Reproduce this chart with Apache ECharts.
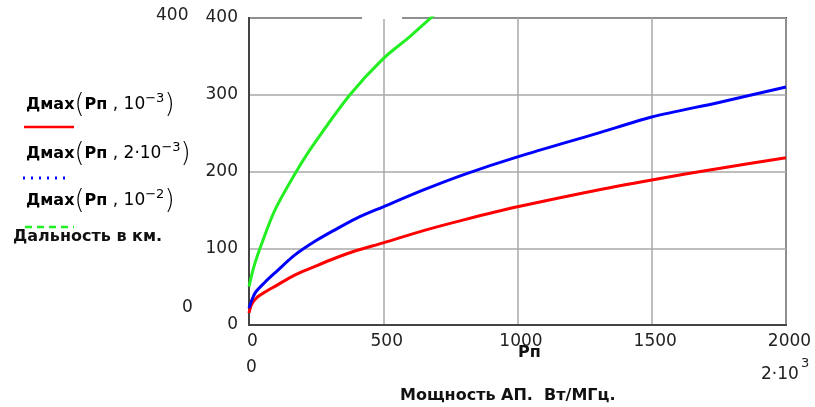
<!DOCTYPE html>
<html>
<head>
<meta charset="utf-8">
<script src="https://cdn.jsdelivr.net/npm/echarts@6/dist/echarts.min.js"></script>
<style>
html,body{margin:0;padding:0;background:#fff;}
#chart{width:815px;height:407px;}
</style>
</head>
<body>
<div id="chart"></div>
<script>
// ---- data ----
var redP    = [0, 10, 30, 60, 100, 170, 250, 320, 400, 500, 650, 800, 1000, 1300, 1500, 1750, 2000];
var redD    = [15.6, 27, 36, 43, 51, 65, 77, 87, 97, 107, 123, 137, 154, 176, 189, 204, 218];
var blueP   = [0, 10, 25, 60, 100, 170, 250, 320, 400, 500, 650, 800, 1000, 1300, 1500, 1750, 2000];
var blueD   = [22, 32, 43, 56, 69, 91, 110, 124, 139, 154, 176, 196, 219, 250, 271, 290, 310];
var greenP  = [0, 10, 20, 41, 97, 190, 250, 376, 500, 600, 680, 700];
var greenD  = [50, 65, 78, 100, 150, 208, 240, 300, 347, 376, 401, 407];
var xTicks  = [0, 500, 1000, 1500, 2000];
var yTicks  = [0, 100, 200, 300, 400];

function pairs(xs, ys){ return xs.map(function(x,i){ return [x, ys[i]]; }); }

var FONT = 'DejaVu Sans';
var chart = echarts.init(document.getElementById('chart'), null, {renderer:'canvas'});

var legendRich = {
  b: {fontFamily: FONT, fontWeight: 'bold', fontSize: 16, color: '#111'},
  n: {fontFamily: FONT, fontSize: 17, color: '#222'},
  s: {fontFamily: FONT, fontSize: 13, color: '#222', padding: [0,0,13,0]},
  p: {fontFamily: FONT, fontSize: 26, color: '#b0b0b0', fontWeight: 'lighter'}
};
function legendText(x, y, txt){
  return {type:'text', left: x, top: y, style:{text: txt, rich: legendRich, fontFamily: FONT}};
}

var option = {
  backgroundColor: '#fff',
  animation: false,
  grid: {left: 249, right: 29, top: 18, bottom: 82, show: true, borderColor: '#444', borderWidth: 2, backgroundColor: 'transparent'},
  xAxis: {
    type: 'value', min: 0, max: 2000, interval: 500,
    axisLine: {show: true, lineStyle: {color: '#444', width: 2}},
    axisTick: {show: false},
    splitLine: {show: true, lineStyle: {color: '#a8a8a8', width: 1.5}},
    axisLabel: {fontFamily: FONT, fontSize: 17, color: '#222', margin: 8, padding: [0,0,0,7],
      formatter: function(v){ return xTicks.indexOf(v) >= 0 ? String(v) : ''; }}
  },
  yAxis: {
    type: 'value', min: 0, max: 400, interval: 100,
    axisLine: {show: true, lineStyle: {color: '#444', width: 2}},
    axisTick: {show: false},
    splitLine: {show: true, lineStyle: {color: '#a8a8a8', width: 1.5}},
    axisLabel: {fontFamily: FONT, fontSize: 17, color: '#222', margin: 11,
      formatter: function(v){ return yTicks.indexOf(v) >= 0 ? String(v) : ''; }}
  },
  series: [
    {type:'line', data: pairs(redP, redD), smooth: 0.3, showSymbol:false, clip:true,
     lineStyle:{color:'#ff0000', width: 3}},
    {type:'line', data: pairs(blueP, blueD), smooth: 0.3, showSymbol:false, clip:true,
     lineStyle:{color:'#0000ff', width: 3}},
    {type:'line', data: pairs(greenP, greenD), smooth: 0.3, showSymbol:false, clip:true,
     lineStyle:{color:'#22ee22', width: 3}}
  ],
  graphic: [
    // small break in the top frame, as in the reference
    {type:'rect', shape:{x:362, y:16, width:40, height:3}, style:{fill:'#fff'}, z: 100},
    // legend labels
    legendText(26, 92, '{b|Дмах}{p|(}{b|Рп}{n| , 10}{s|−3}{p|)}'),
    {type:'line', shape:{x1:24, y1:127, x2:74, y2:127}, style:{stroke:'#ff0000', lineWidth:2.5}},
    legendText(26, 141, '{b|Дмах}{p|(}{b|Рп}{n| , 2·10}{s|−3}{p|)}'),
    {type:'line', shape:{x1:23, y1:178, x2:69, y2:178}, style:{stroke:'#0000ff', lineWidth:3, lineDash:[2,6]}},
    legendText(26, 188, '{b|Дмах}{p|(}{b|Рп}{n| , 10}{s|−2}{p|)}'),
    {type:'line', shape:{x1:25, y1:227, x2:74, y2:227}, style:{stroke:'#22ee22', lineWidth:2.5, lineDash:[7,5]}},
    {type:'text', left: 13, top: 229, style:{text:'Дальность в км.', fontFamily: FONT, fontWeight:'bold', fontSize: 16, fill:'#111'}},
    // extra Mathcad limit labels
    {type:'text', left: 156, top: 7, style:{text:'400', fontFamily: FONT, fontSize: 17, fill:'#222'}},
    {type:'text', left: 182, top: 299, style:{text:'0', fontFamily: FONT, fontSize: 17, fill:'#222'}},
    {type:'text', left: 246, top: 359, style:{text:'0', fontFamily: FONT, fontSize: 17, fill:'#222'}},
    {type:'text', left: 761, top: 366, style:{text:'2·10', fontFamily: FONT, fontSize: 17, fill:'#222'}},
    {type:'text', left: 801, top: 357, style:{text:'3', fontFamily: FONT, fontSize: 13, fill:'#222'}},
    // axis titles
    {type:'text', left: 518, top: 345, style:{text:'Рп', fontFamily: FONT, fontWeight:'bold', fontSize: 16, fill:'#111'}},
    {type:'text', left: 400, top: 388, style:{text:'Мощность АП.  Вт/МГц.', fontFamily: FONT, fontWeight:'bold', fontSize: 16, fill:'#111'}}
  ]
};
chart.setOption(option);
</script>
</body>
</html>
